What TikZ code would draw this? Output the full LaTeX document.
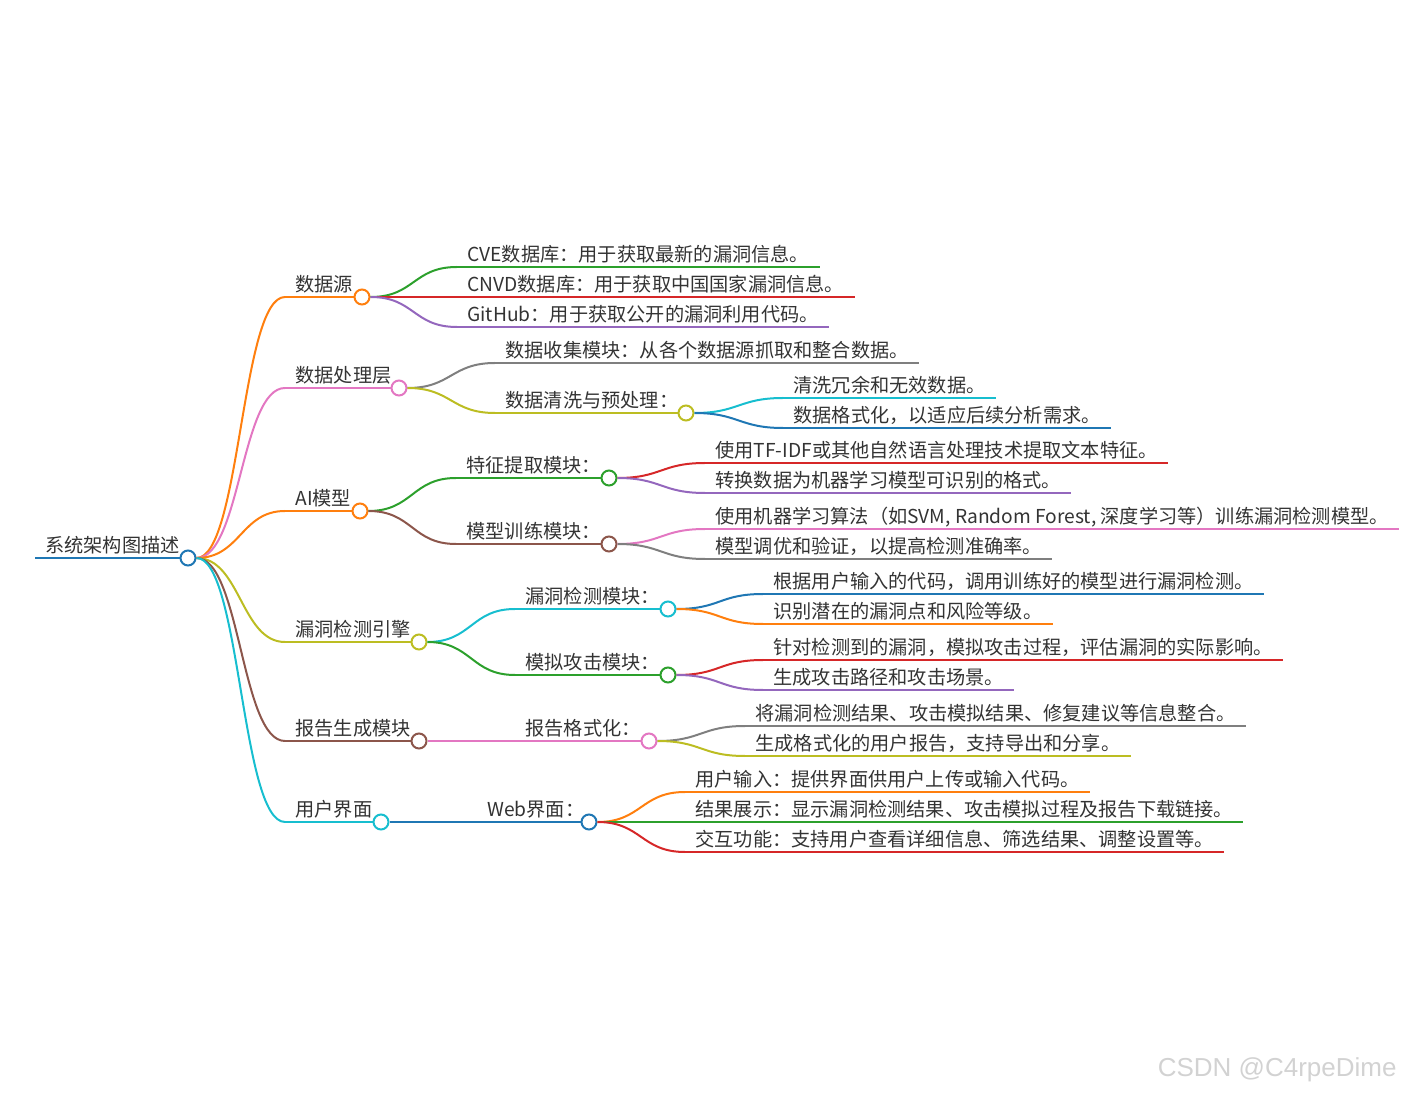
\documentclass[tikz,border=0pt]{standalone}
\usepackage{fontspec}
\setmainfont{Noto Sans CJK SC}
\newfontfamily\markfont{Liberation Sans}
\definecolor{cblue}{HTML}{1F77B4}
\definecolor{corange}{HTML}{FF7F0E}
\definecolor{cgreen}{HTML}{2CA02C}
\definecolor{cred}{HTML}{D62728}
\definecolor{cpurple}{HTML}{9467BD}
\definecolor{cbrown}{HTML}{8C564B}
\definecolor{cpink}{HTML}{E377C2}
\definecolor{cgray}{HTML}{7F7F7F}
\definecolor{colive}{HTML}{BCBD22}
\definecolor{ccyan}{HTML}{17BECF}
\definecolor{txtgray}{HTML}{333333}
\tikzset{
  lbl/.style={anchor=south west,inner xsep=5pt,inner ysep=2.6pt,text depth=0pt,
    text=txtgray,font=\fontsize{9.6}{11}\selectfont},
  hub/.style={circle,draw=#1,fill=white,line width=1pt,minimum size=7.5pt,inner sep=0pt},
  edge/.style={line width=1pt},
}
% branch from a hub to the start of a child's underline
\newcommand\curve[3]{\draw[edge,#1] (#2) .. controls +(44,0) and +(-44,0) .. (#3);}
% underline of a leaf
\newcommand\leafline[2]{\draw[edge,#1] (#2.south west) -- (#2.south east);}
\begin{document}
\begin{tikzpicture}[x=0.5pt,y=-0.5pt]
\useasboundingbox (0,0) rectangle (1402,1095);
% root
\node[lbl] (root) at (35,558) {系统架构图描述};
\node[hub=cblue] (rootc) at (188,558) {};
\draw[edge,cblue] (root.south west) -- (rootc.west);
% first level
\node[lbl] (src) at (285,297) {数据源};
\node[hub=corange] (srcc) at (362,297) {};
\node[lbl] (proc) at (285,388) {数据处理层};
\node[hub=cpink] (procc) at (399,388) {};
\node[lbl] (ai) at (285,511) {AI模型};
\node[hub=corange] (aic) at (360,511) {};
\node[lbl] (eng) at (285,642) {漏洞检测引擎};
\node[hub=colive] (engc) at (419,642) {};
\node[lbl] (rep) at (285,741) {报告生成模块};
\node[hub=cbrown] (repc) at (419,741) {};
\node[lbl] (ui) at (285,822) {用户界面};
\node[hub=ccyan] (uic) at (381,822) {};
\curve{corange}{rootc.east}{src.south west}
\curve{cpink}{rootc.east}{proc.south west}
\curve{corange}{rootc.east}{ai.south west}
\curve{colive}{rootc.east}{eng.south west}
\curve{cbrown}{rootc.east}{rep.south west}
\curve{ccyan}{rootc.east}{ui.south west}
\draw[edge,corange] (src.south west) -- (srcc.west);
\draw[edge,cpink] (proc.south west) -- (procc.west);
\draw[edge,corange] (ai.south west) -- (aic.west);
\draw[edge,colive] (eng.south west) -- (engc.west);
\draw[edge,cbrown] (rep.south west) -- (repc.west);
\draw[edge,ccyan] (ui.south west) -- (uic.west);
% data sources
\node[lbl] (cve) at (457,267) {CVE数据库：用于获取最新的漏洞信息。};
\node[lbl] (cnvd) at (457,297) {CNVD数据库：用于获取中国国家漏洞信息。};
\node[lbl] (gh) at (457,327) {GitHub：用于获取公开的漏洞利用代码。};
\curve{cgreen}{srcc.east}{cve.south west}
\curve{cred}{srcc.east}{cnvd.south west}
\curve{cpurple}{srcc.east}{gh.south west}
\leafline{cgreen}{cve}
\leafline{cred}{cnvd}
\leafline{cpurple}{gh}
% data processing
\node[lbl] (collect) at (495,363) {数据收集模块：从各个数据源抓取和整合数据。};
\node[lbl] (clean) at (495,413) {数据清洗与预处理：};
\node[hub=colive] (cleanc) at (686,413) {};
\curve{cgray}{procc.east}{collect.south west}
\curve{colive}{procc.east}{clean.south west}
\leafline{cgray}{collect}
\draw[edge,colive] (clean.south west) -- (cleanc.west);
\node[lbl] (dedup) at (783,398) {清洗冗余和无效数据。};
\node[lbl] (fmt) at (783,428) {数据格式化，以适应后续分析需求。};
\curve{ccyan}{cleanc.east}{dedup.south west}
\curve{cblue}{cleanc.east}{fmt.south west}
\leafline{ccyan}{dedup}
\leafline{cblue}{fmt}
% AI model
\node[lbl] (feat) at (456,478) {特征提取模块：};
\node[hub=cgreen] (featc) at (609,478) {};
\node[lbl] (train) at (456,544) {模型训练模块：};
\node[hub=cbrown] (trainc) at (609,544) {};
\curve{cgreen}{aic.east}{feat.south west}
\curve{cbrown}{aic.east}{train.south west}
\draw[edge,cgreen] (feat.south west) -- (featc.west);
\draw[edge,cbrown] (train.south west) -- (trainc.west);
\node[lbl] (tfidf) at (705,463) {使用TF-IDF或其他自然语言处理技术提取文本特征。};
\node[lbl] (conv) at (705,493) {转换数据为机器学习模型可识别的格式。};
\node[lbl] (algo) at (705,529) {使用机器学习算法（如SVM, Random Forest, 深度学习等）训练漏洞检测模型。};
\node[lbl] (tune) at (705,559) {模型调优和验证，以提高检测准确率。};
\curve{cred}{featc.east}{tfidf.south west}
\curve{cpurple}{featc.east}{conv.south west}
\curve{cpink}{trainc.east}{algo.south west}
\curve{cgray}{trainc.east}{tune.south west}
\leafline{cred}{tfidf}
\leafline{cpurple}{conv}
\leafline{cpink}{algo}
\leafline{cgray}{tune}
% detection engine
\node[lbl] (det) at (515,609) {漏洞检测模块：};
\node[hub=ccyan] (detc) at (668,609) {};
\node[lbl] (sim) at (515,675) {模拟攻击模块：};
\node[hub=cgreen] (simc) at (668,675) {};
\curve{ccyan}{engc.east}{det.south west}
\curve{cgreen}{engc.east}{sim.south west}
\draw[edge,ccyan] (det.south west) -- (detc.west);
\draw[edge,cgreen] (sim.south west) -- (simc.west);
\node[lbl] (detA) at (763,594) {根据用户输入的代码，调用训练好的模型进行漏洞检测。};
\node[lbl] (detB) at (763,624) {识别潜在的漏洞点和风险等级。};
\node[lbl] (simA) at (763,660) {针对检测到的漏洞，模拟攻击过程，评估漏洞的实际影响。};
\node[lbl] (simB) at (763,690) {生成攻击路径和攻击场景。};
\curve{cblue}{detc.east}{detA.south west}
\curve{corange}{detc.east}{detB.south west}
\curve{cred}{simc.east}{simA.south west}
\curve{cpurple}{simc.east}{simB.south west}
\leafline{cblue}{detA}
\leafline{corange}{detB}
\leafline{cred}{simA}
\leafline{cpurple}{simB}
% report
\node[lbl] (rfmt) at (515,741) {报告格式化：};
\node[hub=cpink] (rfmtc) at (649,741) {};
\curve{cpink}{repc.east}{rfmt.south west}
\draw[edge,cpink] (rfmt.south west) -- (rfmtc.west);
\node[lbl] (repA) at (745,726) {将漏洞检测结果、攻击模拟结果、修复建议等信息整合。};
\node[lbl] (repB) at (745,756) {生成格式化的用户报告，支持导出和分享。};
\curve{cgray}{rfmtc.east}{repA.south west}
\curve{colive}{rfmtc.east}{repB.south west}
\leafline{cgray}{repA}
\leafline{colive}{repB}
% user interface
\node[lbl] (web) at (477,822) {Web界面：};
\node[hub=cblue] (webc) at (589,822) {};
\curve{cblue}{uic.east}{web.south west}
\draw[edge,cblue] (web.south west) -- (webc.west);
\node[lbl] (webA) at (685,792) {用户输入：提供界面供用户上传或输入代码。};
\node[lbl] (webB) at (685,822) {结果展示：显示漏洞检测结果、攻击模拟过程及报告下载链接。};
\node[lbl] (webC) at (685,852) {交互功能：支持用户查看详细信息、筛选结果、调整设置等。};
\curve{corange}{webc.east}{webA.south west}
\curve{cgreen}{webc.east}{webB.south west}
\curve{cred}{webc.east}{webC.south west}
\leafline{corange}{webA}
\leafline{cgreen}{webB}
\leafline{cred}{webC}
% watermark
\node[anchor=east,inner sep=0pt,text=gray!35,font=\markfont\fontsize{13}{16}\selectfont] (mark) at (1397,1070) {CSDN @C4rpeDime};
\end{tikzpicture}
\end{document}
